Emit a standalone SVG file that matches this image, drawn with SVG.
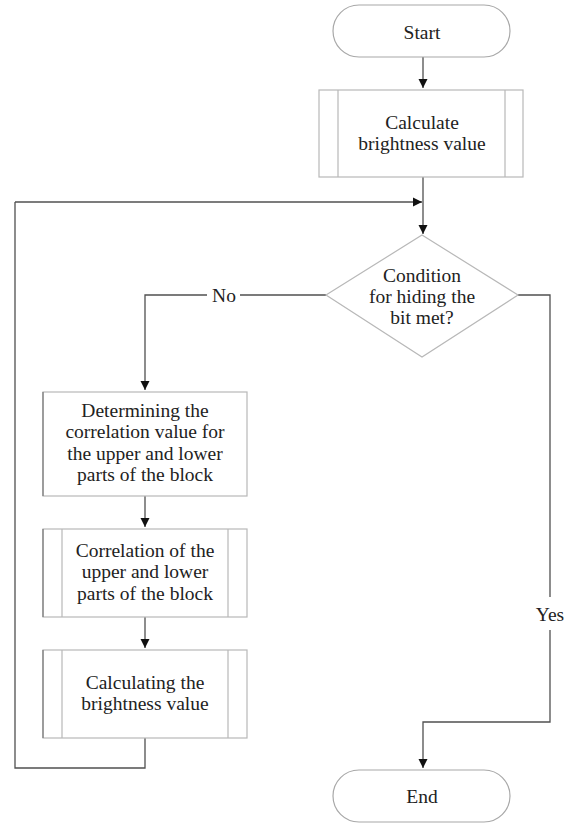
<svg xmlns="http://www.w3.org/2000/svg" width="572" height="824" viewBox="0 0 572 824">
<style>
text{font-family:"Liberation Serif","Times New Roman",serif;font-size:19.5px;fill:#222;text-anchor:middle}
.box{fill:#fff;stroke:#b8b8b8;stroke-width:1.2}
.term{fill:#fff;stroke:#a8a8a8;stroke-width:1.2}
.in{stroke:#b8b8b8;stroke-width:1.2}
.con{fill:none;stroke:#505050;stroke-width:1.3}
</style>
<defs>
<marker id="ah" markerWidth="10" markerHeight="10" refX="9" refY="5" orient="auto" markerUnits="userSpaceOnUse">
<path d="M0,0.5 L9,5 L0,9.5 Z" fill="#111"/>
</marker>
</defs>
<rect width="572" height="824" fill="#fff"/>
<g id="connectors">
<path class="con" d="M423,57 V88" marker-end="url(#ah)"/>
<path class="con" d="M423,177 V234" marker-end="url(#ah)"/>
<path class="con" d="M15,202 H422" marker-end="url(#ah)"/>
<path class="con" d="M326,295 H240 M207,295 H145 V390" marker-end="url(#ah)"/>
<path class="con" d="M145,496 V527" marker-end="url(#ah)"/>
<path class="con" d="M145,617 V648" marker-end="url(#ah)"/>
<path class="con" d="M145,738 V768 H15 V202"/>
<path class="con" d="M518,295 H550 V597"/>
<path class="con" d="M550,630 V722 H423 V768" marker-end="url(#ah)"/>
<text x="224" y="301.5">No</text>
<text x="550" y="621">Yes</text>
</g>
<g id="start">
<rect class="term" x="333" y="5" width="177" height="52" rx="26"/>
<text x="422" y="39">Start</text>
</g>
<g id="calc1">
<rect class="box" x="319" y="90" width="204" height="87"/>
<line class="in" x1="338" y1="90" x2="338" y2="177"/>
<line class="in" x1="505" y1="90" x2="505" y2="177"/>
<text x="422" y="128.5">Calculate</text>
<text x="422" y="150">brightness value</text>
</g>
<g id="decision">
<polygon class="box" points="422,235 518,295 422,357 326,295"/>
<text x="422" y="281.5">Condition</text>
<text x="422" y="303">for hiding the</text>
<text x="422" y="324">bit met?</text>
</g>
<g id="determine">
<rect class="box" x="43" y="392" width="204" height="104"/>
<line x1="43" y1="392" x2="43" y2="496" stroke="#777" stroke-width="1.2"/>
<text x="145" y="416.5">Determining the</text>
<text x="145" y="438">correlation value for</text>
<text x="145" y="459.5">the upper and lower</text>
<text x="145" y="481">parts of the block</text>
</g>
<g id="correlation">
<rect class="box" x="43" y="529" width="204" height="88"/>
<line x1="43" y1="529" x2="43" y2="617" stroke="#777" stroke-width="1.2"/>
<line class="in" x1="62" y1="529" x2="62" y2="617"/>
<line class="in" x1="228" y1="529" x2="228" y2="617"/>
<text x="145" y="556.5">Correlation of the</text>
<text x="145" y="578">upper and lower</text>
<text x="145" y="599.5">parts of the block</text>
</g>
<g id="calc2">
<rect class="box" x="43" y="650" width="204" height="88"/>
<line x1="43" y1="650" x2="43" y2="738" stroke="#777" stroke-width="1.2"/>
<line class="in" x1="62" y1="650" x2="62" y2="738"/>
<line class="in" x1="228" y1="650" x2="228" y2="738"/>
<text x="145" y="688.5">Calculating the</text>
<text x="145" y="710">brightness value</text>
</g>
<g id="end">
<rect class="term" x="333" y="770" width="177" height="52" rx="26"/>
<text x="422" y="803">End</text>
</g>
</svg>
